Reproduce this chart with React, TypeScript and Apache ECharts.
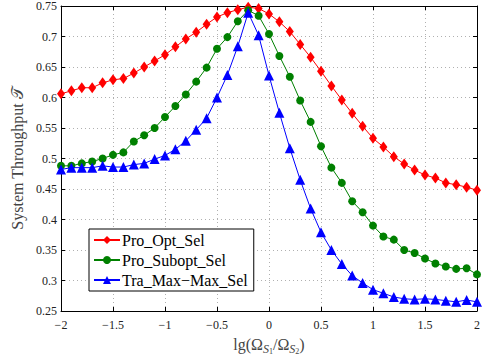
import React, { useEffect, useRef } from "react";
import * as echarts from "echarts";

const xValues = [
  -2, -1.9, -1.8, -1.7, -1.6, -1.5, -1.4, -1.3, -1.2, -1.1, -1, -0.9, -0.8, -0.7,
  -0.6, -0.5, -0.4, -0.3, -0.2, -0.1, 0, 0.1, 0.2, 0.3, 0.4, 0.5, 0.6, 0.7, 0.8,
  0.9, 1, 1.1, 1.2, 1.3, 1.4, 1.5, 1.6, 1.7, 1.8, 1.9, 2,
];

const proOpt = [
  0.606, 0.611, 0.616, 0.616, 0.624, 0.629, 0.631, 0.64, 0.65, 0.66, 0.67, 0.683,
  0.696, 0.707, 0.72, 0.732, 0.739, 0.744, 0.748, 0.746, 0.737, 0.724, 0.708,
  0.687, 0.666, 0.643, 0.619, 0.596, 0.574, 0.553, 0.533, 0.519, 0.503, 0.491,
  0.481, 0.473, 0.468, 0.46, 0.457, 0.453, 0.448,
];

const proSubopt = [
  0.488, 0.488, 0.492, 0.495, 0.5, 0.506, 0.51, 0.528, 0.538, 0.55, 0.568, 0.586,
  0.605, 0.626, 0.649, 0.68, 0.699, 0.725, 0.743, 0.734, 0.704, 0.668, 0.634,
  0.595, 0.56, 0.52, 0.485, 0.46, 0.43, 0.412, 0.39, 0.372, 0.367, 0.35, 0.345,
  0.336, 0.328, 0.323, 0.319, 0.32, 0.31,
];

const traMaxMax = [
  0.482, 0.485, 0.485, 0.485, 0.488, 0.486, 0.486, 0.49, 0.492, 0.499, 0.505,
  0.515, 0.529, 0.547, 0.566, 0.6, 0.637, 0.684, 0.739, 0.702, 0.636, 0.575,
  0.517, 0.465, 0.418, 0.379, 0.35, 0.327, 0.308, 0.296, 0.285, 0.279, 0.273,
  0.27, 0.269, 0.27, 0.269, 0.267, 0.265, 0.268, 0.265,
];

const seriesNames = ["Pro_Opt_Sel", "Pro_Subopt_Sel", "Tra_Max\u2212Max_Sel"];

const FONT = "'Liberation Serif', 'DejaVu Serif', serif";

export default function App() {
  const ref = useRef<HTMLDivElement>(null);
  useEffect(() => {
    if (!ref.current) return;
    const chart = echarts.init(ref.current, undefined, { renderer: "svg" });
    const pair = (ys: number[]) => xValues.map((x, i) => [x, ys[i]]);
    const fmt = (v: number) => String(v).replace("-", "\u2212");
    const gridLine = { show: true, lineStyle: { color: "#b0b0b0", type: [1, 3] as any, width: 1 } };
    chart.setOption({
      animation: false,
      backgroundColor: "#fff",
      textStyle: { fontFamily: FONT },
      grid: { left: 61, right: 7, top: 5, bottom: 45 },
      legend: {
        orient: "vertical",
        left: 89,
        top: 229,
        padding: [3, 6, 3, 4],
        itemGap: 4,
        itemWidth: 26,
        itemHeight: 10,
        backgroundColor: "#fff",
        borderColor: "#000",
        borderWidth: 1,
        textStyle: { fontFamily: FONT, fontSize: 16, color: "#000", padding: [0, 0, 0, -3] },
        data: seriesNames,
      },
      xAxis: [
        {
          type: "value",
          min: -2,
          max: 2,
          interval: 0.5,
          position: "bottom",
          name: "{a|lg(Ω}{s|S}{ss|1}{a|/Ω}{s|S}{ss|2}{a|)}",
          nameLocation: "middle",
          nameGap: 23,
          nameTextStyle: {
            rich: {
              a: { fontFamily: FONT, fontSize: 16, color: "#444" },
              s: { fontFamily: FONT, fontSize: 12, fontStyle: "italic", color: "#444", padding: [8, 0, 0, 0] },
              ss: { fontFamily: FONT, fontSize: 8, color: "#444", padding: [13, 0, 0, 0] },
            },
          },
          axisLine: { show: true, onZero: false, lineStyle: { color: "#000", width: 1 } },
          axisTick: { show: true, inside: true, length: 4, lineStyle: { color: "#000" } },
          axisLabel: { formatter: fmt, fontFamily: FONT, fontSize: 12, color: "#222", margin: 8 },
          splitLine: gridLine,
        },
        {
          type: "value",
          min: -2,
          max: 2,
          interval: 0.5,
          position: "top",
          axisLine: { show: true, onZero: false, lineStyle: { color: "#000", width: 1 } },
          axisTick: { show: true, inside: true, length: 4, lineStyle: { color: "#000" } },
          axisLabel: { show: false },
          splitLine: { show: false },
        },
      ],
      yAxis: [
        {
          type: "value",
          min: 0.25,
          max: 0.75,
          interval: 0.05,
          position: "left",
          name: "System Throughput 𝒯",
          nameLocation: "middle",
          nameGap: 35,
          nameTextStyle: { fontFamily: FONT, fontSize: 16, color: "#444" },
          axisLine: { show: true, onZero: false, lineStyle: { color: "#000", width: 1 } },
          axisTick: { show: true, inside: true, length: 4, lineStyle: { color: "#000" } },
          axisLabel: {
            formatter: (v: number) => String(Math.round(v * 100) / 100),
            fontFamily: FONT,
            fontSize: 12,
            color: "#222",
            margin: 4,
          },
          splitLine: gridLine,
        },
        {
          type: "value",
          min: 0.25,
          max: 0.75,
          interval: 0.05,
          position: "right",
          axisLine: { show: true, onZero: false, lineStyle: { color: "#000", width: 1 } },
          axisTick: { show: true, inside: true, length: 4, lineStyle: { color: "#000" } },
          axisLabel: { show: false },
          splitLine: { show: false },
        },
      ],
      series: [
        {
          name: seriesNames[0],
          type: "line",
          data: pair(proOpt),
          symbol: "diamond",
          symbolSize: [8, 11],
          itemStyle: { color: "#ff0000" },
          lineStyle: { color: "#ff0000", width: 1 },
          z: 3,
        },
        {
          name: seriesNames[1],
          type: "line",
          data: pair(proSubopt),
          symbol: "circle",
          symbolSize: 8,
          itemStyle: { color: "#008000" },
          lineStyle: { color: "#008000", width: 1 },
          z: 4,
        },
        {
          name: seriesNames[2],
          type: "line",
          data: pair(traMaxMax),
          symbol: "triangle",
          symbolSize: 10,
          itemStyle: { color: "#0000ff" },
          lineStyle: { color: "#0000ff", width: 1 },
          z: 5,
        },
      ],
    });
    return () => chart.dispose();
  }, []);
  return <div ref={ref} style={{ width: 484, height: 360, position: "absolute", left: 0, top: 0 }} />;
}
